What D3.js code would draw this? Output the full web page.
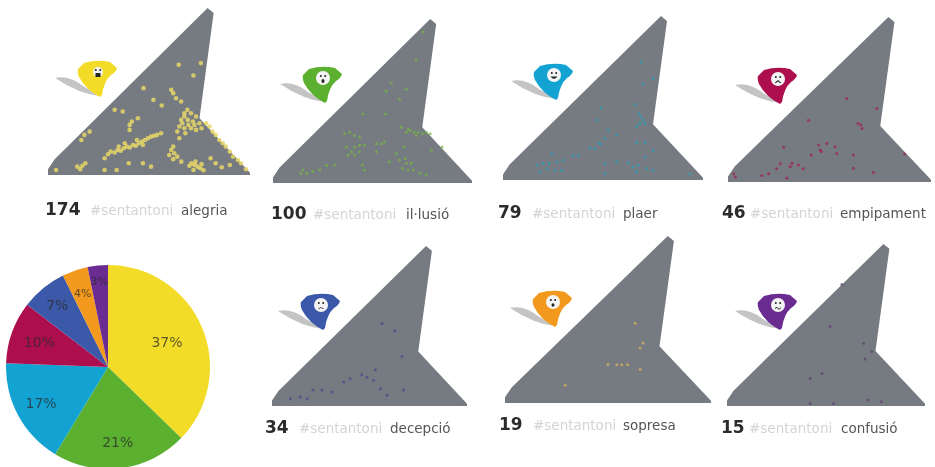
<!DOCTYPE html>
<html>
<head>
<meta charset="utf-8">
<script src="https://cdn.jsdelivr.net/npm/d3@7"></script>
<style>
html, body { margin: 0; padding: 0; background: #fff; }
svg { display: block; filter: blur(0.7px); font-family: "DejaVu Sans", sans-serif; }
</style>
</head>
<body>
<div id="chart"></div>
<script>
var svgWidth = 935;
var svgHeight = 467;

// Data
var emotions = ["alegria", "il·lusió", "plaer", "empipament", "decepció", "sopresa", "confusió"];
var counts = [174, 100, 79, 46, 34, 19, 15];
var percentLabels = ["37%", "21%", "17%", "10%", "7%", "4%", "3%"];
var colors = ["#f2dc27", "#5cb030", "#12a3d3", "#ad0f4e", "#3b59a8", "#f39a1e", "#6a2c91"];
var dotColors = ["#e6d768", "#74b840", "#2ba3bd", "#a51a50", "#3f4c8c", "#dcb85c", "#5c4070"];
var hashtag = "#sentantoni";

// the outline of the town, x and y both run 0-100
var outline = [[79, 100], [82, 97], [75, 34], [100, 1.4], [100, 0], [0, 0], [0, 3.4], [3.3, 9.4]];

var alegriaPts = [[64.7,66],[72,59.6],[75.7,67],[47.3,52],[62,49],[63.4,46],[61,51],[52.2,45],[56.3,41.6],[65.9,44],
  [33,39],[37,38],[44.5,34],[40.4,30],[40.4,27],[41.5,32],[20.6,26],[16.5,21],[18,24],
  [67.5,37],[69,39],[70.8,37],[73.3,35],[65.9,33],[67.5,35],[69.2,33],[71.7,32],[75,31],[65,29],[66.5,31],[67.5,28],[69.5,30],[70.8,28],[73.3,27],[72.5,30],[68,25],[64,26],[76,28],
  [78.3,31],[80,29],[81.5,26],[83,24],[84.8,21],[86.5,19],[88,17],[90,14],[91.6,11],[94,9],[95.6,7],[98,3.4],
  [29.7,12.4],[31,14],[33,13.5],[34.5,15],[36,14.5],[37.5,16],[39,17],[40.5,16.5],[42,18],[43.5,17.5],[45,19],[46.5,20],[48,21],[49.5,22],[51,23],[52.5,23.5],[54,24],[56,25],[35,17],[38,19],[44,21],[47,18],[28,10],
  [65,22],[62,17],[61,15],[62.5,13],[64,11],[62,9.5],[60,12],[66,8],
  [71,7],[72.5,6],[74,5],[75.5,4],[73,8],[70,5.5],[76,6.5],[77,2.8],[72,3],
  [80.5,10],[83,7],[86,4.6],[90,6],[40,7],[47,7],[51,5],[34,3],[28,3],[4,3],[14.5,5],[17,5.5],[16,3.5],[18.5,7]];

var illusioPts = [[75.4,92],[72,75],[59.5,61],[67,57],[56.9,56],[63.6,51],[45.2,42],[56.6,42],[64.5,34],
  [67,31],[69,32],[71,31],[73,31],[75,30],[77,31],[79,30],[68,33],[72,29],
  [36,30],[38.5,31],[41,29],[43.5,28],[36.9,22],[41,22],[43.5,23],[46,23],[37.7,17],[41,17],[43.5,19],[39.5,19],
  [52,24],[54.4,24],[56,25],[52,19],
  [66,22],[62,18],[79.6,20],[85,22],[58.6,13],[63.6,14],[67,12],[69.5,12],[65,9],[68,8],[70.5,8],[66.5,15],[73.7,6],[77,5],
  [45,11],[46,8],
  [14,6],[17,6],[20,7],[23.5,8],[27,10.6],[31,11],[15,8]];

var plaerPts = [[69,72],[75,62],[70,58.5],[49,44],[66,46],[68,40.6],[69,38.6],[70,36.6],[68.4,34.6],[71,34.6],[66.8,32.5],[47,36.6],
  [52.6,30.5],[56.8,27.4],[51,25.4],[47.7,22.4],[43.5,19.3],[46,19.3],[49,22],[37.7,15],[35,15],[24.4,16],
  [66.8,23],[71,23],[71,14],[75,18],[56.8,11],[62.6,10.6],[51,10],[51,4],
  [17,9],[20,10],[23,10],[27,11],[30,12],[18.6,5],[22,7],[26,6],[29.4,6],
  [65,8],[67.6,9],[66.8,5],[71.8,7],[75,6],[93.4,3.7]];

var empipamentPts = [[58.5,50.6],[73.3,44.6],[39.7,37.5],[65.4,34.5],[66,32.5],[64,35.5],[27.4,21],[45.4,19.4],[46,18.5],[44.6,22.4],[48.7,23.4],
  [52.8,21.4],[53.6,17.3],[41,16.3],[61.8,16.3],[87,17],[71.6,5.8],[61.8,8.3],[31.5,11.3],[30.6,9.3],[34.7,10.3],[37,8],[24,8],[25.7,11],[16.7,4],[20,5],[3.6,3],[2.8,5],[29,2.2]];

var decepcioPts = [[56.4,51.5],[63,47],[66.7,31],[46,19.6],[53,22.7],[52,16],[55.6,10.8],[59,6.7],[40,17],[36.8,15],[9.4,4.6],[14.5,5.6],[21,10],[25.6,10],[30.8,8.8],[18,4.6],[48.7,18],[67.5,10]];

var sopresaPts = [[63.2,47.8],[67,35.9],[65.6,33],[54.3,22.9],[56.7,22.9],[59.5,22.9],[65.6,20],[29.2,10.6],[50,23]];

var confusioPts = [[58,75],[52,49],[69,38.8],[73,33.6],[69.7,29],[48,20],[42,17],[42,1.6],[53.8,1.6],[71.4,3.7],[78,2.7]];

var allPts = [alegriaPts, illusioPts, plaerPts, empipamentPts, decepcioPts, sopresaPts, confusioPts];

// Layout of the small maps: box of the map, pin corner, text positions
var panels = [
  {x0: 48,  x1: 250, y0: 175, y1: 8,   pin: [77, 60],   numX: 45,  tagX: 90,  wordX: 181, base: 215},
  {x0: 273, x1: 472, y0: 183, y1: 19,  pin: [302, 66],  numX: 271, tagX: 313, wordX: 406, base: 219},
  {x0: 503, x1: 703, y0: 180, y1: 16,  pin: [533, 63],  numX: 498, tagX: 532, wordX: 623, base: 218},
  {x0: 728, x1: 931, y0: 182, y1: 17,  pin: [757, 67],  numX: 722, tagX: 750, wordX: 840, base: 218},
  {x0: 272, x1: 467, y0: 406, y1: 246, pin: [300, 293], numX: 265, tagX: 299, wordX: 390, base: 433},
  {x0: 505, x1: 711, y0: 403, y1: 236, pin: [532, 290], numX: 499, tagX: 533, wordX: 623, base: 430},
  {x0: 727, x1: 925, y0: 406, y1: 244, pin: [757, 293], numX: 721, tagX: 749, wordX: 841, base: 433}
];

var svg = d3.select("#chart").append("svg")
  .attr("width", svgWidth)
  .attr("height", svgHeight);

var pinPath = "M1,9 L7,3 Q20,-1 33,2 L40,8 Q39,12 34,15 Q27,21 25,35 L23,37 Q9,30 2,17 Q0,12 1,9 Z";
var shadowPath = "M-22,18 Q-8,15 6,26 L23,36 Q2,34 -22,18 Z";
var mouths = [
  "M-2.5,1 h5 v4 h-5 Z",
  "M-1.5,3 a1.5,2 0 1 0 3,0 a1.5,2 0 1 0 -3,0 Z",
  "M-3.5,1.5 Q0,6 3.5,1.5 Z",
  "M-3.5,4 L0,1 L3.5,4 L2,4 L0,2.5 L-2,4 Z",
  "M-3,4 Q0,0.5 3,4 L2,4 Q0,2 -2,4 Z",
  "M-1.5,3 a1.5,1.8 0 1 0 3,0 a1.5,1.8 0 1 0 -3,0 Z",
  "M-3,3 Q-1,1 0,3 Q1,5 3,2 L3,3 Q1,6 0,4 Q-1,2 -3,4 Z"
];

panels.forEach(function(p, i) {
  var xScale = d3.scaleLinear().domain([0, 100]).range([p.x0, p.x1]);
  var yScale = d3.scaleLinear().domain([0, 100]).range([p.y0, p.y1]);
  var line = d3.line()
    .x(function(d) { return xScale(d[0]); })
    .y(function(d) { return yScale(d[1]); })
    .curve(d3.curveLinearClosed);

  var g = svg.append("g");
  g.append("path").attr("d", line(outline)).attr("fill", "#767a81");

  g.selectAll("circle").data(allPts[i]).enter().append("circle")
    .attr("cx", function(d) { return xScale(d[0]); })
    .attr("cy", function(d) { return yScale(d[1]); })
    .attr("r", i == 0 ? 2.3 : 1.5)
    .attr("fill", dotColors[i])
    .attr("fill-opacity", i == 0 ? 0.85 : 0.7);

  // pin with the little face
  var pin = svg.append("g").attr("transform", "translate(" + p.pin[0] + "," + p.pin[1] + ")");
  pin.append("path").attr("d", shadowPath).attr("fill", "#c4c4c4");
  pin.append("path").attr("d", pinPath).attr("fill", colors[i]);
  var face = pin.append("g").attr("transform", "translate(21,12)");
  face.append("circle").attr("r", i == 0 ? 5 : 7).attr("fill", "#f4f4f4");
  face.append("circle").attr("cx", -2.2).attr("cy", -2).attr("r", 1).attr("fill", "#222");
  face.append("circle").attr("cx", 2.2).attr("cy", -2).attr("r", 1).attr("fill", "#222");
  face.append("path").attr("d", mouths[i]).attr("fill", "#222");

  // caption
  svg.append("text").attr("x", p.numX).attr("y", p.base)
    .attr("font-size", 17).attr("font-weight", "bold").attr("fill", "#2b2b2b")
    .text(counts[i]);
  svg.append("text").attr("x", p.tagX).attr("y", p.base)
    .attr("font-size", 13.5).attr("fill", "#d4d4d4")
    .text(hashtag);
  svg.append("text").attr("x", p.wordX).attr("y", p.base)
    .attr("font-size", 13.5).attr("fill", "#555")
    .text(emotions[i]);
});

// Pie
var pieR = 102;
var labelR = [64, 76, 76, 73, 80, 78, 86];
var labelSize = [14, 14, 14, 14, 14, 11, 11];
var pie = d3.pie().sort(null).value(function(d) { return d; });
var arc = d3.arc().innerRadius(0).outerRadius(pieR);
var pieG = svg.append("g").attr("transform", "translate(108,367)");
var slices = pie(counts);

pieG.selectAll("path").data(slices).enter().append("path")
  .attr("d", arc)
  .attr("fill", function(d, i) { return colors[i]; });

pieG.selectAll("text").data(slices).enter().append("text")
  .attr("transform", function(d, i) {
    var a = d3.arc().innerRadius(labelR[i]).outerRadius(labelR[i]);
    return "translate(" + a.centroid(d) + ")";
  })
  .attr("text-anchor", "middle")
  .attr("dy", "0.35em")
  .attr("font-size", function(d, i) { return labelSize[i]; })
  .attr("fill", "#2b2b2b")
  .attr("fill-opacity", 0.75)
  .text(function(d, i) { return percentLabels[i]; });
</script>
</body>
</html>
